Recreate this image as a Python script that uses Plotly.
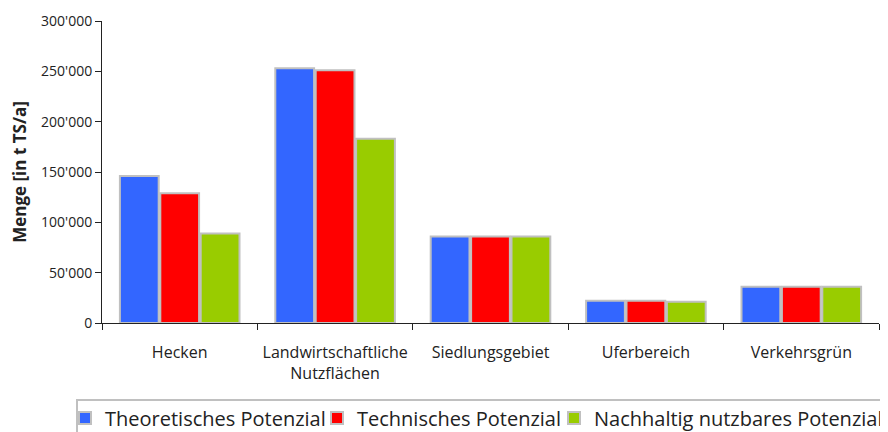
import plotly.graph_objects as go

categories = ["Hecken", "Landwirtschaftliche<br>Nutzflächen", "Siedlungsgebiet", "Uferbereich", "Verkehrsgrün"]
theoretisch = [146000, 253000, 86000, 22000, 36000]
technisch = [129000, 251000, 86000, 22000, 36000]
nachhaltig = [89000, 183000, 86000, 21000, 36000]
series_names = ["Theoretisches Potenzial", "Technisches Potenzial", "Nachhaltig nutzbares Potenzial"]
series_colors = ["#3366ff", "#ff0000", "#99cc00"]
y_tickvals = [0, 50000, 100000, 150000, 200000, 250000, 300000]

# the page body adds an 8px offset; targets are given in screen pixels
OFF = 8
W, H = 888, 432
PLOT_LEFT, PLOT_RIGHT, PLOT_TOP, PLOT_BOTTOM = 102, 879, 21, 323
L = PLOT_LEFT - OFF
T = PLOT_TOP - OFF
R = W - (PLOT_RIGHT - OFF)
B = H - (PLOT_BOTTOM - OFF)
PW = PLOT_RIGHT - PLOT_LEFT
PH = PLOT_BOTTOM - PLOT_TOP

def px_x(p):
    return (p - PLOT_LEFT) / PW

def px_y(p):
    return (PLOT_BOTTOM - p) / PH

legend_ids = ["legend", "legend2", "legend3"]
legend_text_starts = [105, 357, 594]

fig = go.Figure()
for name, vals, col, lid in zip(series_names, [theoretisch, technisch, nachhaltig], series_colors, legend_ids):
    fig.add_trace(go.Bar(
        x=categories, y=vals, name=name, legend=lid,
        marker=dict(color=col, line=dict(color="#c0c0c0", width=2)),
    ))

font_family = "Open Sans, Noto Sans, sans-serif"
legend_common = dict(
    orientation="h", yanchor="middle", y=px_y(418), xanchor="left",
    font=dict(size=20, color="#222222", family=font_family),
    bgcolor="rgba(0,0,0,0)", borderwidth=0, itemwidth=30,
)
layout_legends = {}
for lid, ts in zip(legend_ids, legend_text_starts):
    d = dict(legend_common)
    d["x"] = px_x(ts - 40)
    layout_legends[lid] = d

fig.update_layout(
    width=W, height=H,
    margin=dict(l=L, r=R, t=T, b=B, autoexpand=False),
    paper_bgcolor="white", plot_bgcolor="white",
    separators=".'",
    font=dict(family=font_family, size=14, color="#222222"),
    barmode="group", bargap=0.22, bargroupgap=0.04,
    showlegend=True,
    xaxis=dict(
        showline=True, linecolor="#222222", linewidth=1,
        ticks="outside", ticklen=6, tickcolor="#222222", tickson="boundaries",
        ticklabelstandoff=15,
        showgrid=False, zeroline=False,
        tickfont=dict(size=16),
    ),
    yaxis=dict(
        range=[0, 300000], tickvals=y_tickvals, tickformat=",d",
        showline=True, linecolor="#222222", linewidth=1,
        ticks="outside", ticklen=6, tickcolor="#222222",
        showgrid=False, zeroline=False,
        tickfont=dict(size=14),
        title=dict(text="<b>Menge [in t TS/a]</b>", font=dict(size=17), standoff=10),
    ),
    shapes=[dict(
        type="rect", xref="paper", yref="paper",
        x0=px_x(77), x1=px_x(910), y0=px_y(400), y1=px_y(450),
        line=dict(color="#c0c0c0", width=2), fillcolor="rgba(0,0,0,0)",
    )],
    **layout_legends,
)

fig.write_html("out.html")
